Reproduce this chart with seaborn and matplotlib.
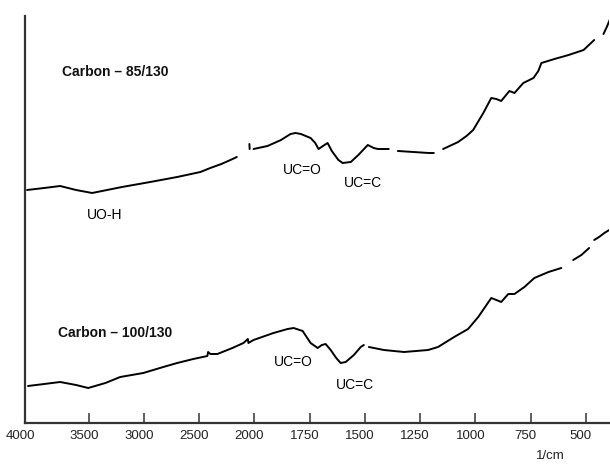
import numpy as np
import pandas as pd
import matplotlib
matplotlib.use("Agg")
import matplotlib.pyplot as plt
import seaborn as sns
from matplotlib.transforms import ScaledTranslation

sns.set_style("white")
plt.rcParams["font.family"] = ["Liberation Sans", "DejaVu Sans"]

nan = np.nan

# ---- data (wavenumber, relative transmittance) ; NaN marks a break in the trace
wn_85 = [3984, 3850, 3725, 3600, 3470, 3200, 2944, 2700, 2490, 2400, 2300, 2218, 2160,
         nan, 2046, 2044,
         nan, 2009, 1941, 1880, 1837, 1814, 1790, 1746, 1725, 1710, 1690, 1669, 1650, 1620,
         1601, 1564, 1530, 1487, 1460, 1441, 1392,
         nan, 1351, 1280, 1211, 1188,
         nan, 1146, 1078, 1040, 1010, 964, 928, 905, 883, 846, 823, 783, 737, 715, 701,
         642, 578, 510, 462,
         nan, 420, 405, 392]
tr_85 = [233, 235, 237, 233, 230, 236, 241, 246, 251, 255, 259, 263, 266,
         nan, 279, 274,
         nan, 274, 277, 283, 289, 290, 289, 285, 280, 274, 277, 280, 272, 263,
         260, 261, 268, 278, 275, 274, 274,
         nan, 272, 271, 270, 270,
         nan, 274, 281, 287, 293, 310, 325, 324, 322, 332, 330, 340, 345, 352, 360,
         364, 368, 373, 383,
         nan, 389, 396, 403]

wn_100 = [3976, 3850, 3725, 3600, 3505, 3350, 3216, 3007, 2826, 2700, 2554, 2427, 2420,
          2400, 2336, 2200, 2100, 2060, 2055, 2009, 1914, 1850, 1823, 1782, 1746, 1714,
          1695, 1678, 1655, 1630, 1610, 1587, 1550, 1519, 1505,
          nan, 1482, 1414, 1323, 1214, 1169, 1096, 1033, 987, 928, 905, 883, 851, 823,
          778, 733, 669, 611,
          nan, 557, 520, 485,
          nan, 462, 440, 416, 394]
tr_100 = [37, 39, 41, 38, 35, 40, 46, 50, 56, 60, 64, 67, 71,
          69, 69, 75, 80, 84, 80, 83, 90, 94, 95, 92, 80, 75,
          78, 79, 73, 65, 60, 61, 68, 76, 78,
          nan, 76, 73, 71, 73, 76, 86, 94, 106, 125, 123, 121, 129, 129,
          136, 145, 151, 155,
          nan, 163, 168, 175,
          nan, 183, 186, 190, 193]

tick_values = [4000, 3500, 3000, 2500, 2000, 1750, 1500, 1250, 1000, 750, 500]
tick_labels = [str(v) for v in tick_values]


def to_frame(sample, wn, tr):
    rows, seg = [], 0
    for w, t in zip(wn, tr):
        if np.isnan(w):
            seg += 1
            continue
        rows.append((sample, f"{sample}-{seg}", w, t))
    return pd.DataFrame(rows, columns=["sample", "seg", "wn", "tr"])


df = pd.concat([to_frame("Carbon – 85/130", wn_85, tr_85),
                to_frame("Carbon – 100/130", wn_100, tr_100)], ignore_index=True)

W, H = 610, 466
fig = plt.figure(figsize=(W / 100, H / 100), dpi=100)
ax = fig.add_axes([25 / W, 1 - 423 / H, (609 - 25) / W, (423 - 16) / H])

# piecewise-linear IR axis (expanded below 2000 1/cm)
bp_wn = np.array([-1e5, 0, 2000, 3500, 4000, 1e5])
bp_u = np.array([-1e5, 0, 2000, 2750, 3039, 3039 + 96000 * 0.578])
ax.set_xscale("function", functions=(lambda x: np.interp(x, bp_wn, bp_u),
                                     lambda u: np.interp(u, bp_u, bp_wn)))

sns.lineplot(data=df, x="wn", y="tr", units="seg", estimator=None, sort=False,
             color="black", lw=1.4, ax=ax, legend=False)

ax.set_xlim(4000, 395)
ax.set_ylim(0, 407)
ax.set_xlabel("")
ax.set_ylabel("")
ax.set_yticks([])
ax.set_xticks(tick_values)
ax.set_xticklabels(tick_labels, fontsize=9.5, color="#222222")
ax.tick_params(axis="x", bottom=True, direction="in", length=7, width=1.1,
               color="#333333", pad=5)
for lbl in ax.get_xticklabels():
    lbl.set_transform(lbl.get_transform() + ScaledTranslation(-5 / 100, 0, fig.dpi_scale_trans))

for s in ["top", "right"]:
    ax.spines[s].set_visible(False)
for s in ["left", "bottom"]:
    ax.spines[s].set_linewidth(1.6)
    ax.spines[s].set_color("#333333")

bold = dict(fontsize=10, fontweight="bold", color="#111111", va="center")
ax.text(3710, 351, "Carbon – 85/130", ha="left", **bold)
ax.text(3741, 90, "Carbon – 100/130", ha="left", **bold)

reg = dict(fontsize=10, color="black", va="center", ha="center")
ax.text(3361, 208, "UO-H", **reg)
ax.text(1782, 253, "UC=O", **reg)
ax.text(1510, 240, "UC=C", **reg)
ax.text(1823, 61, "UC=O", **reg)
ax.text(1546, 38, "UC=C", **reg)

fig.text(550 / W, 1 - 456 / H, "1/cm", ha="center", va="center",
         fontsize=9.5, color="#222222")

fig.savefig("out.png", dpi=100)
